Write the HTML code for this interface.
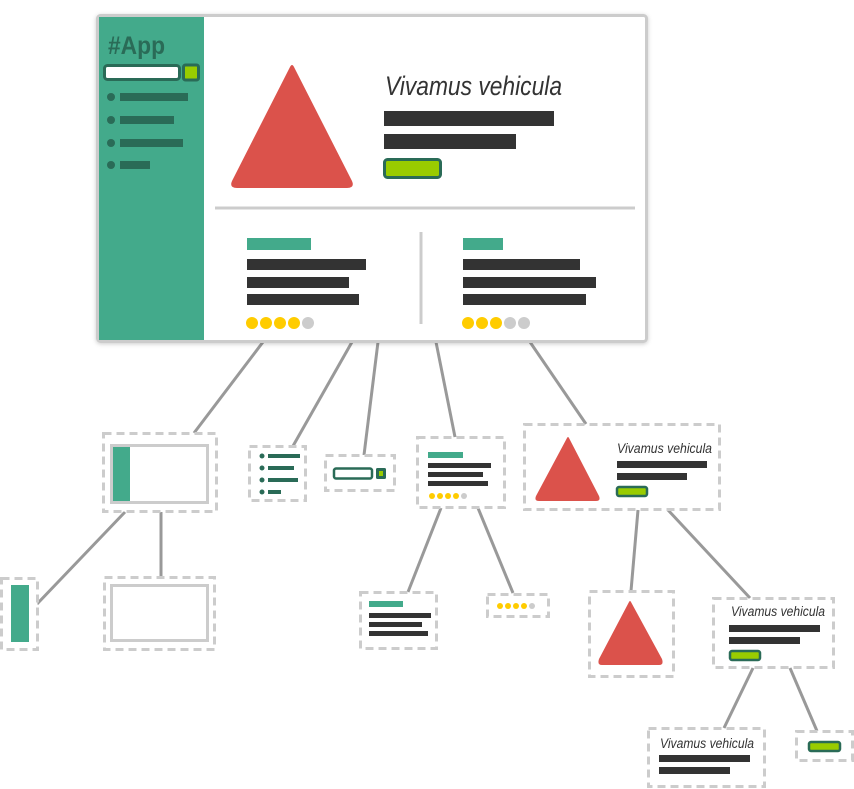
<!DOCTYPE html>
<html><head><meta charset="utf-8"><style>
html,body{margin:0;padding:0;background:#fff;}
svg{display:block;}
.t{font-family:"Liberation Sans",sans-serif;font-style:italic;fill:#333;}
</style></head><body>
<svg width="854" height="789" viewBox="0 0 854 789" xmlns="http://www.w3.org/2000/svg">
<defs>
<filter id="sh" x="-5%" y="-5%" width="110%" height="110%"><feDropShadow dx="0" dy="1" stdDeviation="2" flood-color="#000" flood-opacity="0.2"/></filter>
</defs>
<g stroke="#999" stroke-width="3" fill="none">
<line x1="263" y1="342" x2="194" y2="433"/>
<line x1="352" y1="342" x2="293" y2="446"/>
<line x1="378" y1="342" x2="364" y2="455"/>
<line x1="436" y1="342" x2="455" y2="437"/>
<line x1="530" y1="342" x2="586" y2="424"/>
<line x1="125" y1="512" x2="37" y2="604"/>
<line x1="161" y1="512" x2="161" y2="577"/>
<line x1="441" y1="508" x2="408" y2="592"/>
<line x1="478" y1="508" x2="513" y2="593"/>
<line x1="638" y1="510" x2="631" y2="591"/>
<line x1="668" y1="510" x2="750" y2="598"/>
<line x1="753" y1="668" x2="724" y2="728"/>
<line x1="790" y1="668" x2="817" y2="731"/>
</g>
<rect x="97.5" y="15.5" width="549" height="326" rx="3" fill="#fff" stroke="#ccc" stroke-width="3" filter="url(#sh)"/>
<rect x="99" y="17" width="105" height="323" fill="#43aa8b"/>
<text x="108" y="54" font-family="Liberation Sans Narrow,Liberation Sans,sans-serif" font-weight="bold" font-size="25" fill="#2a6b57" textLength="57" lengthAdjust="spacingAndGlyphs">#App</text>
<rect x="104.5" y="65.5" width="75" height="14" rx="3" fill="#fff" stroke="#2a6b57" stroke-width="3"/>
<rect x="183.5" y="65" width="15" height="15" rx="2" fill="#99cc00" stroke="#2a6b57" stroke-width="3"/>
<g fill="#2a6b57">
<circle cx="111" cy="97" r="4"/><rect x="120" y="93" width="68" height="8"/>
<circle cx="111" cy="120" r="4"/><rect x="120" y="116" width="54" height="8"/>
<circle cx="111" cy="143" r="4"/><rect x="120" y="139" width="63" height="8"/>
<circle cx="111" cy="165" r="4"/><rect x="120" y="161" width="30" height="8"/>
</g>
<path d="M290 67 Q292 63 294 67 L352 181 Q355 188 347 188 L237 188 Q229 188 232 181 Z" fill="#db524b"/>
<text class="t" x="385" y="95" font-size="27" textLength="177" lengthAdjust="spacingAndGlyphs">Vivamus vehicula</text>
<g fill="#333">
<rect x="384" y="111" width="170" height="15"/>
<rect x="384" y="134" width="132" height="15"/>
</g>
<rect x="384.5" y="159.5" width="56" height="18" rx="3" fill="#99cc00" stroke="#2a6b57" stroke-width="3"/>
<line x1="215" y1="208" x2="635" y2="208" stroke="#ccc" stroke-width="3"/>
<line x1="421" y1="232" x2="421" y2="324" stroke="#ccc" stroke-width="3"/>
<rect x="247" y="238" width="64" height="12" fill="#43aa8b"/>
<g fill="#333">
<rect x="247" y="259" width="119" height="11"/><rect x="247" y="277" width="102" height="11"/><rect x="247" y="294" width="112" height="11"/>
<rect x="463" y="259" width="117" height="11"/><rect x="463" y="277" width="133" height="11"/><rect x="463" y="294" width="123" height="11"/>
</g>
<rect x="463" y="238" width="40" height="12" fill="#43aa8b"/>
<g fill="#ffcc00">
<circle cx="252" cy="323" r="6"/><circle cx="266" cy="323" r="6"/><circle cx="280" cy="323" r="6"/><circle cx="294" cy="323" r="6"/>
<circle cx="468" cy="323" r="6"/><circle cx="482" cy="323" r="6"/><circle cx="496" cy="323" r="6"/>
</g>
<g fill="#ccc"><circle cx="308" cy="323" r="6"/><circle cx="510" cy="323" r="6"/><circle cx="524" cy="323" r="6"/></g>

<g fill="#fff" stroke="#ccc" stroke-width="3" stroke-dasharray="8 5">
<rect x="103.5" y="433.5" width="113" height="78"/>
<rect x="249.5" y="446.5" width="56" height="54"/>
<rect x="325.5" y="455.5" width="69" height="35"/>
<rect x="417.5" y="437.5" width="87" height="70"/>
<rect x="524.5" y="424.5" width="195" height="85"/>
<rect x="1.5" y="578.5" width="36" height="71"/>
<rect x="104.5" y="577.5" width="110" height="72"/>
<rect x="360.5" y="592.5" width="76" height="56"/>
<rect x="487.5" y="594.5" width="61" height="22"/>
<rect x="589.5" y="591.5" width="84" height="85"/>
<rect x="713.5" y="598.5" width="120" height="69"/>
<rect x="648.5" y="728.5" width="116" height="58"/>
<rect x="796.5" y="731.5" width="56" height="29"/>
</g>
<rect x="111.5" y="445.5" width="96" height="57" fill="#fff" stroke="#ccc" stroke-width="3"/>
<rect x="113" y="447" width="17" height="54" fill="#43aa8b"/>
<g fill="#2a6b57">
<circle cx="262" cy="456" r="2.5"/><rect x="268" y="454" width="32" height="4"/>
<circle cx="262" cy="468" r="2.5"/><rect x="268" y="466" width="26" height="4"/>
<circle cx="262" cy="480" r="2.5"/><rect x="268" y="478" width="30" height="4"/>
<circle cx="262" cy="492" r="2.5"/><rect x="268" y="490" width="13" height="4"/>
</g>
<rect x="334" y="468.5" width="38" height="10" rx="2" fill="#fff" stroke="#2a6b57" stroke-width="2.5"/>
<rect x="376" y="468" width="10" height="11" rx="1.5" fill="#2a6b57"/>
<rect x="379" y="471" width="4" height="5" fill="#99cc00"/>
<rect x="428" y="452" width="35" height="6" fill="#43aa8b"/>
<g fill="#333"><rect x="428" y="463" width="63" height="5"/><rect x="428" y="472" width="55" height="5"/><rect x="428" y="481" width="60" height="5"/></g>
<g fill="#ffcc00"><circle cx="432" cy="496" r="3"/><circle cx="440" cy="496" r="3"/><circle cx="448" cy="496" r="3"/><circle cx="456" cy="496" r="3"/></g>
<circle cx="464" cy="496" r="3" fill="#ccc"/>
<path d="M567 438 Q568 436 569 438 L599 496 Q601 501 596 501 L539 501 Q534 501 536 496 Z" fill="#db524b"/>
<text class="t" x="617" y="453" font-size="13.5" textLength="95" lengthAdjust="spacingAndGlyphs">Vivamus vehicula</text>
<g fill="#333"><rect x="617" y="461" width="90" height="7"/><rect x="617" y="473" width="70" height="7"/></g>
<rect x="617" y="487" width="30" height="9" rx="2" fill="#99cc00" stroke="#2a6b57" stroke-width="2.5"/>
<rect x="11" y="585" width="18" height="57" fill="#43aa8b"/>
<rect x="111.5" y="585.5" width="96" height="55" fill="#fff" stroke="#ccc" stroke-width="3"/>
<rect x="369" y="601" width="34" height="6" fill="#43aa8b"/>
<g fill="#333"><rect x="369" y="613" width="62" height="5"/><rect x="369" y="622" width="53" height="5"/><rect x="369" y="631" width="59" height="5"/></g>
<g fill="#ffcc00"><circle cx="500" cy="606" r="3"/><circle cx="508" cy="606" r="3"/><circle cx="516" cy="606" r="3"/><circle cx="524" cy="606" r="3"/></g>
<circle cx="532" cy="606" r="3" fill="#ccc"/>
<path d="M629 602 Q630 600 631 602 L662 659 Q664 665 659 665 L602 665 Q597 665 599 659 Z" fill="#db524b"/>
<text class="t" x="731" y="616" font-size="13.5" textLength="94" lengthAdjust="spacingAndGlyphs">Vivamus vehicula</text>
<g fill="#333"><rect x="729" y="625" width="91" height="7"/><rect x="729" y="637" width="71" height="7"/></g>
<rect x="730" y="651" width="30" height="9" rx="2" fill="#99cc00" stroke="#2a6b57" stroke-width="2.5"/>
<text class="t" x="660" y="748" font-size="13.5" textLength="94" lengthAdjust="spacingAndGlyphs">Vivamus vehicula</text>
<g fill="#333"><rect x="659" y="755" width="91" height="7"/><rect x="659" y="767" width="71" height="7"/></g>
<rect x="809" y="742" width="31" height="9" rx="2" fill="#99cc00" stroke="#2a6b57" stroke-width="2.5"/>
</svg>
</body></html>
